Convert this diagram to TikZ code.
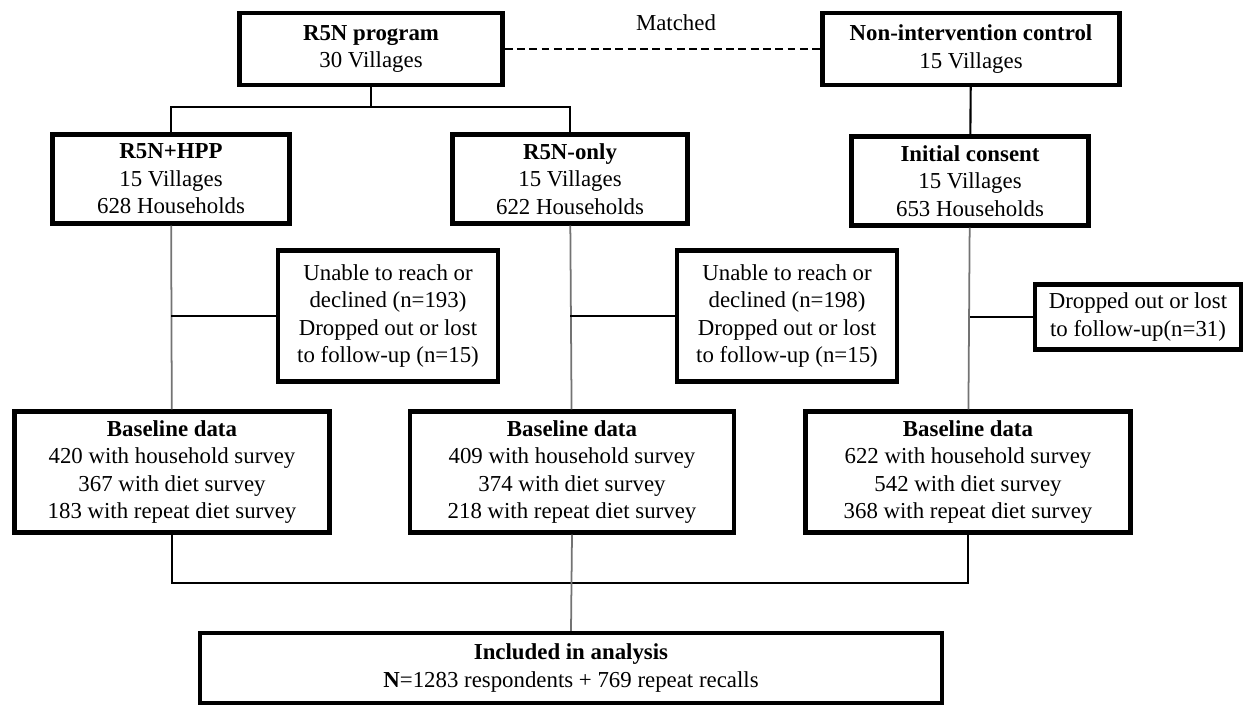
\documentclass[tikz,border=0pt]{standalone}
\usepackage{fontspec}
\setmainfont{Liberation Serif}
\tikzset{b/.style = {draw, line width=2.5pt, align=center, inner sep=2pt,
        font=\fontsize{13}{15.7}\selectfont},
    l/.style = {line width=1.2pt},
    g/.style = {line width=1pt, draw=black!55}}

\begin{document}
\begin{tikzpicture}[x=0.02cm, y=-0.02cm]
        \useasboundingbox (0,0) rectangle (1245,707);
        \node[b, minimum width=5.26cm, minimum height=1.44cm] (prog) at (371,49) {\textbf{R5N program}\\30 Villages};
        \node[b, minimum width=5.94cm, minimum height=1.44cm] (ctrl) at (971,49) {\textbf{Non-intervention control}\\15 Villages};
        \node[font=\fontsize{13}{15.7}\selectfont] (match) at (676,23) {Matched};

        \foreach \n/\x/\y/\w/\t/\h in {hpp/171/179/4.74/R5N+HPP/628, only/570/179/4.7/R5N-only/622, cons/970/181/4.74/Initial consent/653}
            \node[b, minimum width=\w cm, minimum height=1.78cm] (\n) at (\x,\y) {\textbf{\t}\\15 Villages\\\h{} Households};

        \node[b, minimum width=4.4cm, minimum height=2.62cm] (ex1) at (388,316) {Unable to reach or\\declined (n=193)\\Dropped out or lost\\to follow-up (n=15)};
        \node[b, minimum width=4.4cm, minimum height=2.62cm] (ex2) at (787,316) {Unable to reach or\\declined (n=198)\\Dropped out or lost\\to follow-up (n=15)};
        \node[b, minimum width=4.12cm, minimum height=1.3cm] (ex3) at (1138,317) {Dropped out or lost\\to follow-up(n=31)};

        \node[b, minimum width=6.3cm, minimum height=2.42cm] (base1) at (172,472) {\textbf{Baseline data}\\420 with household survey\\367 with diet survey\\183 with repeat diet survey};
        \node[b, minimum width=6.48cm, minimum height=2.42cm] (base2) at (572,472) {\textbf{Baseline data}\\409 with household survey\\374 with diet survey\\218 with repeat diet survey};
        \node[b, minimum width=6.5cm, minimum height=2.42cm] (base3) at (968,472) {\textbf{Baseline data}\\622 with household survey\\542 with diet survey\\368 with repeat diet survey};

        \node[b, minimum width=14.84cm, minimum height=1.4cm] (incl) at (571,668) {\textbf{Included in analysis}\\\textbf{N}=1283 respondents + 769 repeat recalls};

        \coordinate (t1) at (371,107);
        \coordinate (t2) at (570,583);

        \draw[l] (prog) -- (t1);
        \draw[l] (hpp.north) |- (t1) -| (only.north);
        \draw[l, line width=1.5pt, dash pattern=on 4.5pt off 2.5pt] (prog.east) -- (ctrl.west);
        \draw[l] (ctrl) -- (cons);

        \foreach \u/\e/\d in {hpp/ex1/base1, only/ex2/base2, cons/ex3/base3} {
            \draw[g] (\u) -- (\d);
            \draw[l] (\u.south |- \e.west) -- (\e.west);
        }

        \draw[l] (base1.south) |- (t2) -| (base3.south);
        \draw[g] (base2.south) -- (incl.north);
    \end{tikzpicture}
\end{document}
